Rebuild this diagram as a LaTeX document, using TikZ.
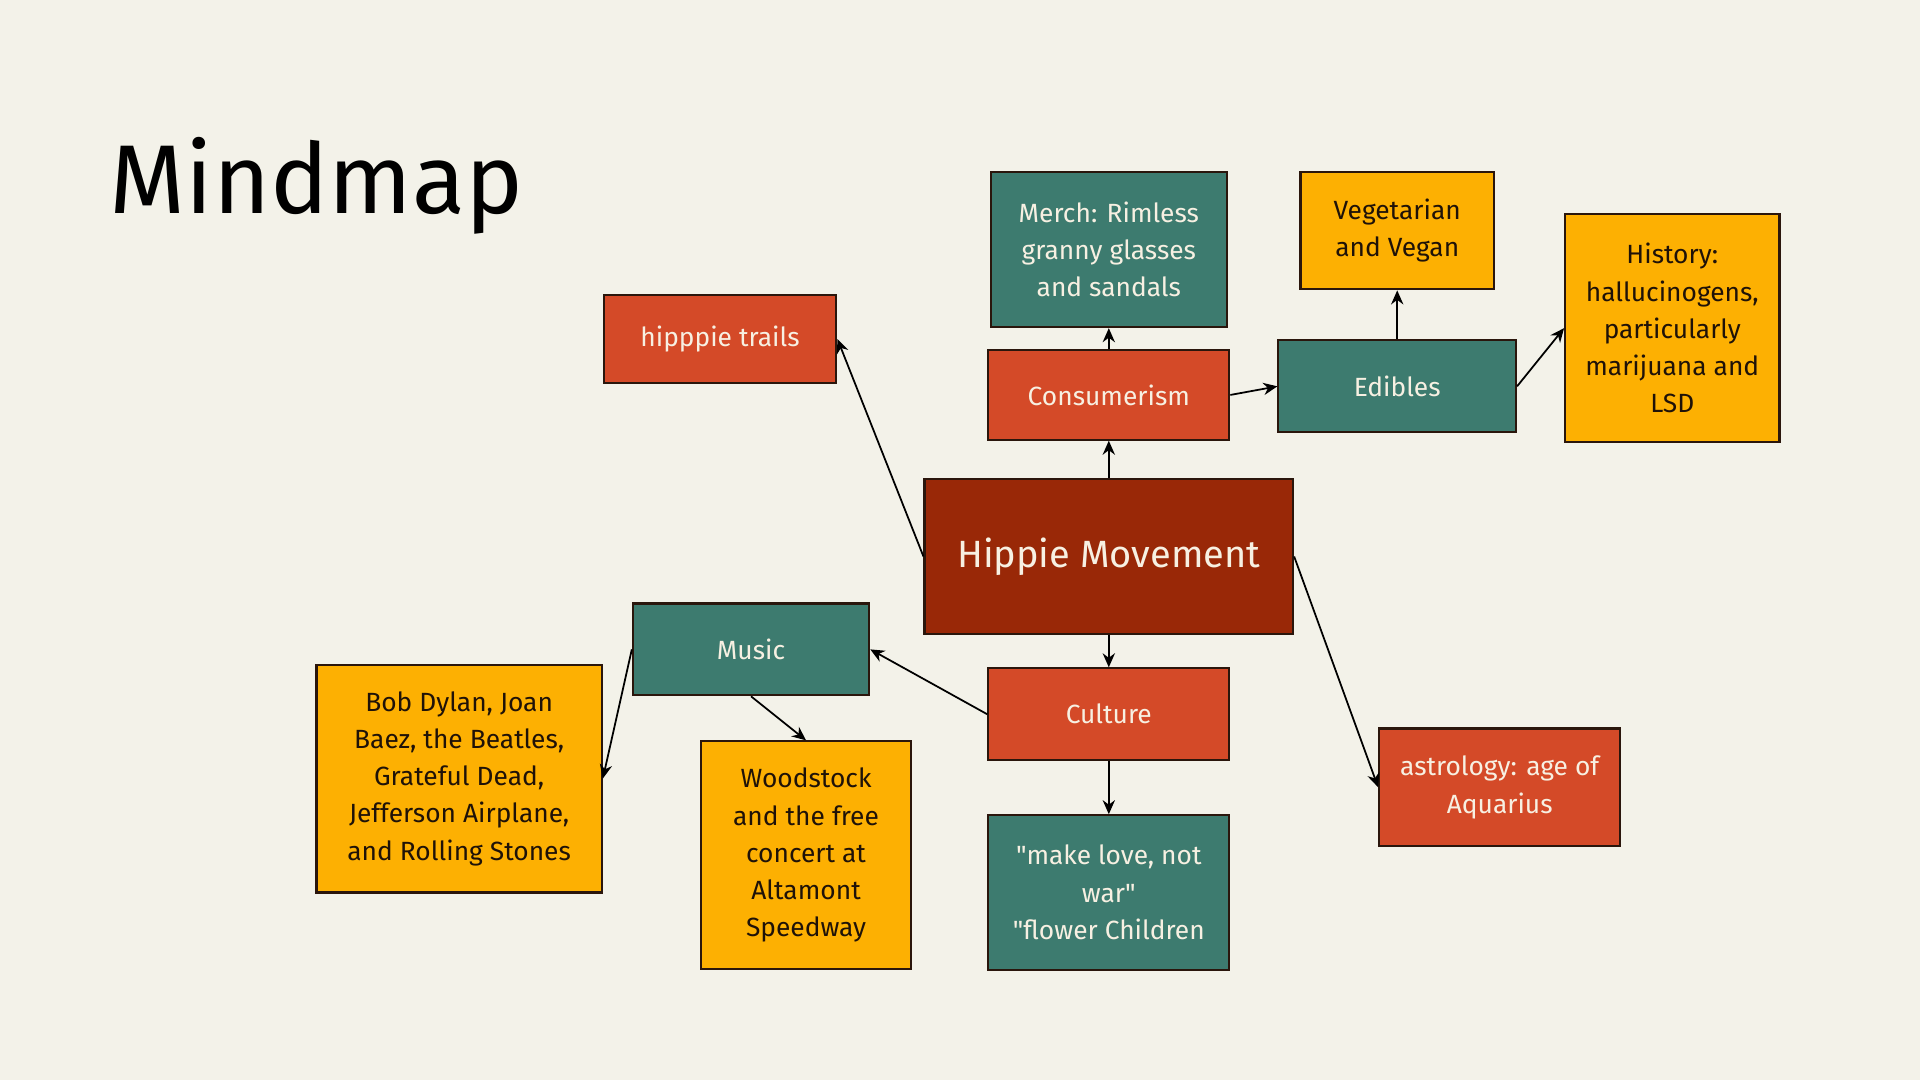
\documentclass[tikz,border=0pt]{standalone}
\usepackage{fontspec}
\setmainfont{Fira Sans}[Ligatures=TeXOff]
\usepackage{tikz}
\usetikzlibrary{arrows.meta, positioning}
\definecolor{bgcream}{HTML}{F3F2E9}
\definecolor{hubred}{HTML}{992807}
\definecolor{rust}{HTML}{D44A28}
\definecolor{pine}{HTML}{3D7B6F}
\definecolor{gold}{HTML}{FDB002}
\definecolor{ink}{HTML}{1F1208}
\definecolor{paper}{HTML}{F7F0E2}
\definecolor{edge}{HTML}{2A160C}
\newlength{\boxwidth}
\setlength{\boxwidth}{2.41cm}
\newlength{\barheight}
\setlength{\barheight}{0.918cm}
\newcommand{\boxfont}{\fontsize{7.5pt}{10.6pt}\selectfont}
\tikzstyle{box} = [rectangle, draw=edge, line width=0.6pt, align=center, inner sep=2pt, font=\boxfont]
\tikzstyle{hub} = [box, fill=hubred, text=paper, font=\fontsize{10.8pt}{13pt}\selectfont]
\tikzstyle{branch} = [box, fill=rust, text=paper]
\tikzstyle{leaf} = [box, fill=pine, text=paper]
\tikzstyle{note} = [box, fill=gold, text=ink]
\tikzstyle{arrow} = [line width=0.5pt, -{Stealth[length=4pt, width=3.5pt]}]

\begin{document}
\begin{tikzpicture}

    % Page
    \fill[bgcream] (0,0) rectangle (19.2,-10.8);
    \useasboundingbox (0,0) rectangle (19.2,-10.8);
    \node (title) [anchor=base west, inner sep=0pt, font=\fontsize{27.8pt}{30pt}\selectfont] at (1.09,-2.14) {Mindmap};

    % Centre
    \node (hippie) [hub, minimum width=3.686cm, minimum height=1.555cm] at (11.088,-5.565) {Hippie Movement};

    % Upper branch
    \node (consumerism) [branch, above=0.37cm of hippie, minimum width=\boxwidth, minimum height=0.894cm] {Consumerism};
    \node (merch) [leaf, above=0.21cm of consumerism, minimum width=2.363cm, minimum height=1.555cm] {Merch: Rimless\\granny glasses\\and sandals};
    \node (edibles) [leaf, right=0.47cm of consumerism, yshift=0.086cm, minimum width=2.376cm, minimum height=\barheight] {Edibles};
    \node (vegan) [note, above=0.49cm of edibles, minimum width=1.935cm, minimum height=1.176cm] {Vegetarian\\and Vegan};
    \node (history) [note, right=0.47cm of edibles, yshift=0.582cm, minimum width=2.143cm, minimum height=2.278cm] {History:\\hallucinogens,\\particularly\\marijuana and\\LSD};

    % Side branches
    \node (trails) [branch, left=0.86cm of hippie, yshift=2.174cm, minimum width=2.327cm, minimum height=0.882cm] {hipppie trails};
    \node (astrology) [branch, right=0.84cm of hippie, yshift=-2.308cm, minimum width=\boxwidth, minimum height=1.176cm] {astrology: age of\\Aquarius};

    % Lower branch
    \node (culture) [branch, below=0.32cm of hippie, minimum width=\boxwidth, minimum height=\barheight] {Culture};
    \node (slogans) [leaf, below=0.53cm of culture, minimum width=\boxwidth, minimum height=1.543cm] {"make love, not\\war"\\"flower Children};
    \node (music) [leaf, left=1.17cm of culture, yshift=0.649cm, minimum width=2.363cm, minimum height=\barheight] {Music};
    \node (bands) [note, left=0.29cm of music, yshift=-1.292cm, minimum width=2.853cm, minimum height=2.278cm] {Bob Dylan, Joan\\Baez, the Beatles,\\Grateful Dead,\\Jefferson Airplane,\\and Rolling Stones};
    \node (woodstock) [note, below=0.44cm of music, xshift=0.55cm, minimum width=2.094cm, minimum height=2.278cm] {Woodstock\\and the free\\concert at\\Altamont\\Speedway};

    % ==== Arrows
    \draw [arrow] (hippie.north) -- (consumerism.south);
    \draw [arrow] (consumerism.north) -- (merch.south);
    \draw [arrow] (consumerism.east) -- (edibles.west);
    \draw [arrow] (edibles.north) -- (vegan.south);
    \draw [arrow] (edibles.east) -- (history.west);
    \draw [arrow] (hippie.west) -- (trails.east);
    \draw [arrow] (hippie.east) -- (astrology.west);
    \draw [arrow] (hippie.south) -- (culture.north);
    \draw [arrow] (culture.west) -- (music.east);
    \draw [arrow] (culture.south) -- (slogans.north);
    \draw [arrow] (music.west) -- (bands.east);
    \draw [arrow] (music.south) -- (woodstock.north);

\end{tikzpicture}
\end{document}
